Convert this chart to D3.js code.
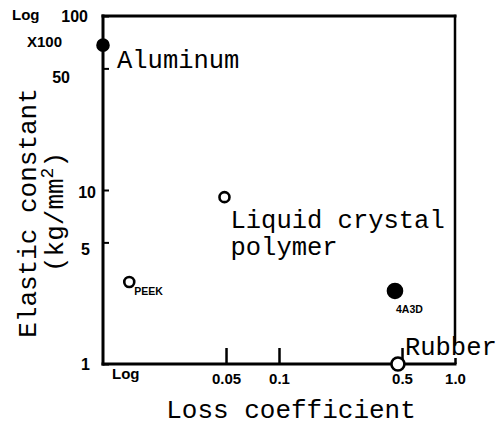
<!DOCTYPE html>
<html><head><meta charset="utf-8">
<script src="https://cdn.jsdelivr.net/npm/d3@7"></script>
<style>html,body{margin:0;padding:0;background:#fff;} svg{display:block}</style>
</head><body><svg id="c" width="501" height="426"></svg>
<script>
// ---- data ----
const materials       = ["Aluminum", "Liquid crystal polymer", "PEEK", "4A3D", "Rubber"];
const lossCoefficient = [0.01, 0.049, 0.0141, 0.456, 0.474];
const elasticConstant = [68, 9.1, 2.96, 2.63, 1];
const markerFilled    = [true, false, false, true, false];
const xTickValues = [0.05, 0.1, 0.5, 1.0];
const xTickLabels = ["0.05", "0.1", "0.5", "1.0"];
const yTickValues = [1, 5, 10, 50, 100];
const yTickLabels = ["1", "5", "10", "50", "100"];

// ---- drawing ----
const svg = d3.select("#c");
const x = d3.scaleLog().domain([0.01, 1]).range([103, 455]);
const y = d3.scaleLog().domain([1, 100]).range([364, 16]);
const mono = "'Liberation Mono', 'DejaVu Sans Mono', monospace";
const sans = "'Liberation Sans', Arial, sans-serif";

// frame
const frame = svg.append("g").attr("stroke", "#000").attr("stroke-linecap", "square");
frame.append("line").attr("x1", x(0.01)).attr("x2", x(0.01)).attr("y1", y(100)).attr("y2", y(1)).attr("stroke-width", 3);
frame.append("line").attr("x1", x(0.01)).attr("x2", x(1)).attr("y1", y(100)).attr("y2", y(100)).attr("stroke-width", 3);
frame.append("line").attr("x1", x(0.01)).attr("x2", x(1)).attr("y1", y(1)).attr("y2", y(1)).attr("stroke-width", 3);
frame.append("line").attr("x1", x(1)).attr("x2", x(1)).attr("y1", y(100)).attr("y2", y(1.3)).attr("stroke-width", 2.5);

// x axis
const xAx = svg.append("g").attr("transform", `translate(0,${y(1)})`)
  .call(d3.axisBottom(x).tickValues(xTickValues).tickFormat((d, i) => xTickLabels[i]).tickSize(-16).tickPadding(9));
xAx.select(".domain").remove();
xAx.selectAll(".tick line").attr("stroke-width", 2.5).attr("y2", d => d === 1 ? -6 : -16);
xAx.selectAll(".tick text").attr("font-family", sans).attr("font-weight", "bold").attr("font-size", 15).attr("fill", "#000");

// y axis
const yAdj = {1: [0, 0], 5: [0, 7], 10: [6, 2], 50: [-20, 9], 100: [-2, 0]};
const yAx = svg.append("g").attr("transform", `translate(${x(0.01)},0)`)
  .call(d3.axisLeft(y).tickValues(yTickValues).tickFormat((d, i) => yTickLabels[i]).tickSize(-6).tickPadding(13));
yAx.select(".domain").remove();
yAx.selectAll(".tick line").attr("stroke-width", 2);
yAx.selectAll(".tick text").attr("font-family", sans).attr("font-weight", "bold").attr("font-size", 16).attr("fill", "#000")
  .attr("dx", d => yAdj[d][0]).attr("transform", d => `translate(0,${yAdj[d][1]})`);

// "Log" / "X100" annotations
svg.append("text").attr("x", 12).attr("y", 20).attr("font-family", sans).attr("font-weight", "bold").attr("font-size", 15).text("Log");
svg.append("text").attr("x", 27).attr("y", 47).attr("font-family", sans).attr("font-weight", "bold").attr("font-size", 15).text("X100");
svg.append("text").attr("x", 112).attr("y", 379).attr("font-family", sans).attr("font-weight", "bold").attr("font-size", 15).text("Log");

// axis titles
svg.append("text").attr("transform", "translate(36,213) rotate(-90)").attr("text-anchor", "middle")
  .attr("font-family", mono).attr("font-size", 26).text("Elastic constant");
const yt2 = svg.append("text").attr("transform", "translate(63,212) rotate(-90)").attr("text-anchor", "middle")
  .attr("font-family", mono).attr("font-size", 26);
yt2.append("tspan").text("(kg/mm");
yt2.append("tspan").attr("font-size", 18).attr("dy", -10).text("2");
yt2.append("tspan").attr("dy", 10).text(")");
svg.append("text").attr("x", 291).attr("y", 418).attr("text-anchor", "middle")
  .attr("font-family", mono).attr("font-size", 26).text("Loss coefficient");

// points
const data = materials.map((m, i) => ({m, lc: lossCoefficient[i], ec: elasticConstant[i], filled: markerFilled[i]}));
const radius = {"Aluminum": 5.5, "Liquid crystal polymer": 5, "PEEK": 5, "4A3D": 7, "Rubber": 6.5};
svg.append("g").selectAll("circle").data(data).join("circle")
  .attr("cx", d => x(d.lc)).attr("cy", d => y(d.ec)).attr("r", d => radius[d.m])
  .attr("fill", d => d.filled ? "#000" : "#fff").attr("stroke", "#000").attr("stroke-width", 2.6);

// labels
const labelStyle = {
  "Aluminum": {dx: 14, dy: 23, big: true, lines: ["Aluminum"]},
  "Liquid crystal polymer": {dx: 6, dy: 31, big: true, lines: ["Liquid crystal", "polymer"]},
  "Rubber": {dx: 7, dy: -9, big: true, lines: ["Rubber"]},
  "PEEK": {dx: 5, dy: 13, big: false, lines: ["PEEK"]},
  "4A3D": {dx: 1, dy: 22, big: false, lines: ["4A3D"]}
};
const lab = svg.append("g").selectAll("text").data(data).join("text")
  .attr("x", d => x(d.lc) + labelStyle[d.m].dx).attr("y", d => y(d.ec) + labelStyle[d.m].dy)
  .attr("font-family", d => labelStyle[d.m].big ? mono : sans)
  .attr("font-weight", d => labelStyle[d.m].big ? "normal" : "bold")
  .attr("font-size", d => labelStyle[d.m].big ? 25.5 : 10.5);
lab.selectAll("tspan").data(d => labelStyle[d.m].lines.map((t, i) => ({t, i, x: x(d.lc) + labelStyle[d.m].dx})))
  .join("tspan").attr("x", t => t.x).attr("dy", t => t.i === 0 ? 0 : 27).text(t => t.t);
</script></body></html>
